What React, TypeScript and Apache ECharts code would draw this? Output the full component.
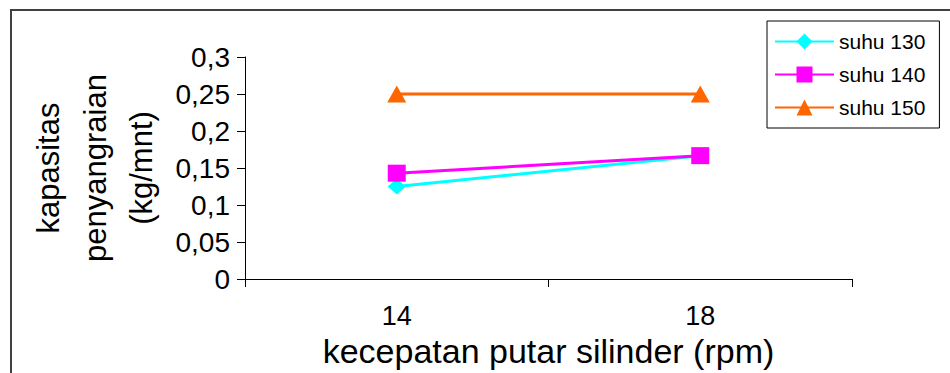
import React, { useEffect, useRef } from "react";
import * as echarts from "echarts";

const categories = ["14", "18"];
const suhu130 = [0.125, 0.1667];
const suhu140 = [0.143, 0.1667];
const suhu150 = [0.25, 0.25];
const seriesNames = ["suhu 130", "suhu 140", "suhu 150"];
const yTitleLines = ["kapasitas", "penyangraian", "(kg/mnt)"];
const xTitle = "kecepatan putar silinder (rpm)";

const FONT = "'Liberation Sans', Arial, sans-serif";

export default function App() {
  const ref = useRef<HTMLDivElement>(null);

  useEffect(() => {
    if (!ref.current) return;
    const chart = echarts.init(ref.current, null, { renderer: "svg" });

    const yTitleX = [48, 95, 141];

    chart.setOption({
      animation: false,
      backgroundColor: "#ffffff",
      textStyle: { fontFamily: FONT },
      grid: { left: 245, right: 98, top: 57, bottom: 94 },
      legend: {
        orient: "vertical",
        left: 767,
        top: 21,
        data: seriesNames,
        itemWidth: 59,
        itemHeight: 20,
        itemGap: 12,
        padding: [10, 14, 10, 7],
        borderColor: "#000000",
        borderWidth: 1,
        textStyle: { fontSize: 21, color: "#000000", fontFamily: FONT },
      },
      xAxis: {
        type: "category",
        data: categories,
        boundaryGap: true,
        axisLine: { lineStyle: { color: "#000000", width: 1 } },
        axisTick: { show: true, length: 8, inside: false, lineStyle: { color: "#000000" } },
        axisLabel: { fontSize: 27, color: "#000000", margin: 23, fontFamily: FONT },
        name: xTitle,
        nameLocation: "middle",
        nameGap: 50,
        nameTextStyle: { fontSize: 34, color: "#000000", fontFamily: FONT },
        splitLine: { show: false },
      },
      yAxis: {
        type: "value",
        min: 0,
        max: 0.3,
        interval: 0.05,
        axisLine: { show: true, lineStyle: { color: "#000000", width: 1 } },
        axisTick: { show: true, length: 8, inside: false, lineStyle: { color: "#000000" } },
        axisLabel: {
          fontSize: 28,
          color: "#000000",
          margin: 15,
          fontFamily: FONT,
          formatter: (v: number) => String(Math.round(v * 100) / 100).replace(".", ","),
        },
        splitLine: { show: false },
      },
      graphic: [
        {
          type: "rect",
          shape: { x: 11, y: 10, width: 1200, height: 1200 },
          style: { fill: "none", stroke: "#404040", lineWidth: 2 },
          silent: true,
        },
        ...yTitleLines.map((t, i) => ({
          type: "text",
          x: yTitleX[i],
          y: 168,
          rotation: Math.PI / 2,
          style: {
            text: t,
            fontSize: 31,
            fontFamily: FONT,
            fill: "#000000",
            align: "center",
            verticalAlign: "middle",
          },
        })),
      ],
      series: [
        {
          name: seriesNames[0],
          type: "line",
          data: suhu130,
          symbol: "diamond",
          symbolSize: [18, 16],
          itemStyle: { color: "#00FFFF" },
          lineStyle: { color: "#00FFFF", width: 3 },
        },
        {
          name: seriesNames[1],
          type: "line",
          data: suhu140,
          symbol: "rect",
          symbolSize: [18, 17],
          itemStyle: { color: "#FF00FF" },
          lineStyle: { color: "#FF00FF", width: 3 },
        },
        {
          name: seriesNames[2],
          type: "line",
          data: suhu150,
          symbol: "triangle",
          symbolSize: [19, 17],
          itemStyle: { color: "#FF6600" },
          lineStyle: { color: "#FF6600", width: 3 },
        },
      ],
    });

    return () => chart.dispose();
  }, []);

  return (
    <div
      ref={ref}
      style={{ position: "fixed", left: 0, top: 0, width: 950, height: 373, background: "#fff" }}
    />
  );
}
